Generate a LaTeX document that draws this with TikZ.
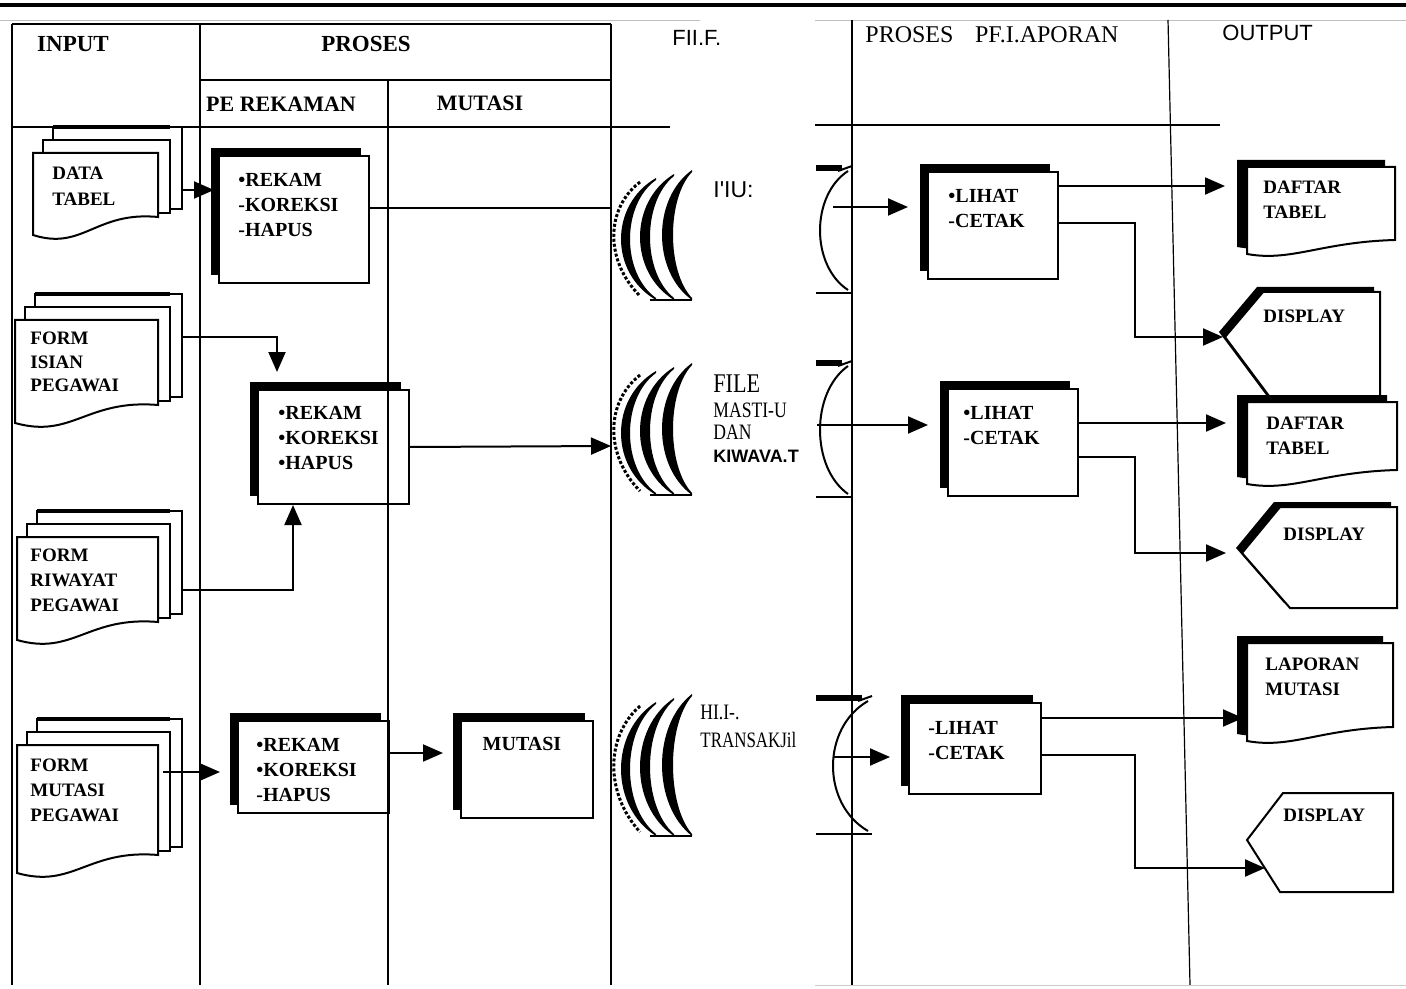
\documentclass[tikz,border=0pt]{standalone}
\usepackage{fontspec}
\usepackage{graphicx}
\setmainfont{Liberation Serif}
\newfontfamily\sansf{Liberation Sans}
\usetikzlibrary{arrows.meta,shadows,calc}

% stacked document: name, x, y (front top-left), w, h (right edge height)
\newcommand\mystack[5]{%
  \foreach \k in {2,1}{%
    \filldraw[fill=white,line width=1pt] ({#2+\k*10},{#3-\k*13}) rectangle ({#2+#4+\k*12},{#3+#5-\k*4});
  }
  \draw[line width=2pt] ({#2+20},{#3-26}) -- ({#2+#4+12},{#3-26});
  \filldraw[fill=white,line width=1pt] (#2,#3) -- ({#2+#4},#3) -- ({#2+#4},{#3+#5})
     .. controls ({#2+0.5*#4},{#3+#5-6}) and ({#2+0.4*#4},{#3+#5+34}) .. (#2,{#3+#5+18}) -- cycle;
  \coordinate (#1) at ({#2+#4/2},{#3+#5/2});
}
% output document with shadow: name, x, y, w, h
\newcommand\myoutdoc[5]{%
  \fill[black] ({#2-10},{#3-7}) -- ({#2+#4-10},{#3-7}) -- ({#2+#4-10},{#3+#5-7})
     .. controls ({#2+0.5*#4-10},{#3+#5-5}) and ({#2+0.3*#4-10},{#3+#5+15}) .. ({#2-10},{#3+#5+7}) -- cycle;
  \filldraw[fill=white,line width=1pt] (#2,#3) -- ({#2+#4},#3) -- ({#2+#4},{#3+#5})
     .. controls ({#2+0.5*#4},{#3+#5+2}) and ({#2+0.3*#4},{#3+#5+22}) .. (#2,{#3+#5+14}) -- cycle;
  \node[inner sep=0pt,minimum width={#4*0.5pt},minimum height={#5*0.5pt},anchor=north west] (#1) at (#2,#3) {};
}
% crescent: xt, yt, yb, xl, thickness
\newcommand\mycres[5]{%
  \fill ({#1},{#2}) .. controls ({(#4)-((#1)-(#4))/3},{(#2)+((#3)-(#2))*0.22}) and ({(#4)-((#1)-(#4))/3},{(#3)-((#3)-(#2))*0.22}) .. ({#1},{#3})
     -- ({#1},{(#3)-2}) .. controls ({(#4)+(#5)-((#1)-(#4)-(#5))/3},{(#3)-((#3)-(#2))*0.22}) and ({(#4)+(#5)-((#1)-(#4)-(#5))/3},{(#2)+((#3)-(#2))*0.22}) .. ({#1},{(#2)+2}) -- cycle;
}
% left half of a file symbol: ytop, H
\newcommand\myfileleft[2]{%
  \mycres{692}{#1}{(#1)+(#2)}{662}{11}
  \mycres{674}{(#1)+4}{(#1)+(#2)}{640}{10}
  \mycres{656}{(#1)+8}{(#1)+(#2)}{621}{9}
  \draw[densely dotted,line width=1.5pt] (640,{(#1)+12}) .. controls (605,{(#1)+0.3*(#2)}) and (605,{(#1)+0.7*(#2)}) .. (640,{(#1)+(#2)-4});
  \draw[line width=1pt] (650,{(#1)+(#2)}) -- (692,{(#1)+(#2)});
}
% right half of a file symbol: yt, yb, xr, xl
\newcommand\myfileright[4]{%
  \draw[line width=1pt] (#3,{(#1)+3}) .. controls ({(#4)-((#3)-(#4))/3},{(#1)+0.22*((#2)-(#1))}) and ({(#4)-((#3)-(#4))/3},{(#2)-0.22*((#2)-(#1))}) .. (#3,{(#2)-3});
  \fill (816,{(#1)-3}) rectangle ({(#3)-6},{(#1)+3});
  \draw[line width=1pt] ({(#3)-10},{(#1)+3}) -- ({(#3)+4},{(#1)-2});
  \draw[line width=1pt] (816,#2) -- ({(#3)+4},#2);
}

\begin{document}
\begin{tikzpicture}[x=0.5pt,y=-0.5pt,
  ln/.style={line width=1pt},
  arr/.style={line width=1pt,-{Triangle[length=10pt,width=8.5pt]}},
  pbox/.style={draw,fill=white,line width=1pt,inner sep=0pt,anchor=north west,
     drop shadow={shadow xshift=-4pt,shadow yshift=4pt,opacity=1,fill=black}},
  scan/.style={font=\fontsize{10}{12.5}\selectfont\bfseries,align=left,inner sep=0pt,anchor=west},
  scans/.style={font=\fontsize{9.5}{12.5}\selectfont\bfseries,align=left,inner sep=0pt,anchor=west},
  hdr/.style={font=\fontsize{11.5}{13}\selectfont\bfseries,inner sep=0pt},
  lab/.style={inner sep=0pt,anchor=west}
]
\useasboundingbox (0,0) rectangle (1406,989);
\fill[white] (0,0) rectangle (1406,989);

% ---------- input documents ----------
\mystack{d1}{33}{153}{125}{64}
\mystack{d2}{15}{320}{143}{85}
\mystack{d3}{17}{537}{141}{85}
\mystack{d4}{17}{745}{141}{110}
\node[scans,font=\fontsize{9.5}{13}\selectfont\bfseries] (d1t) at (52,186) {DATA\\TABEL};
\node[scans,font=\fontsize{9.5}{11.75}\selectfont\bfseries] (d2t) at (30,362) {FORM\\ISIAN\\PEGAWAI};
\node[scans] (d3t) at (30,580) {FORM\\RIWAYAT\\PEGAWAI};
\node[scans] (d4t) at (30,790) {FORM\\MUTASI\\PEGAWAI};

% ---------- process boxes ----------
\node[pbox,minimum width=75pt,minimum height=63.5pt] (b1) at (218,155) {};
\node[pbox,minimum width=75.5pt,minimum height=57pt] (b2) at (257,389) {};
\node[pbox,minimum width=75.5pt,minimum height=46pt] (b3) at (237,720) {};
\node[pbox,minimum width=66pt,minimum height=48.5pt] (mut) at (460,720) {};
\node[pbox,minimum width=65pt,minimum height=53.5pt] (l1) at (927,171) {};
\node[pbox,minimum width=65pt,minimum height=53.5pt] (l2) at (947,388) {};
\node[pbox,minimum width=66pt,minimum height=45.5pt] (l3) at (908,702) {};

\node[scan] (b1t) at (238,205) {•REKAM\\-KOREKSI\\-HAPUS};
\node[scan] (b2t) at (278,438) {•REKAM\\•KOREKSI\\•HAPUS};
\node[scan] (b3t) at (256,770) {•REKAM\\•KOREKSI\\-HAPUS};
\node[scan,anchor=center] (mutt) at (522,744) {MUTASI};
\node[scan] (l1t) at (948,208) {•LIHAT\\-CETAK};
\node[scan] (l2t) at (963,425) {•LIHAT\\-CETAK};
\node[scan] (l3t) at (928,740) {-LIHAT\\-CETAK};

% ---------- files ----------
\myfileleft{170}{130}
\myfileleft{363}{132}
\myfileleft{694}{142}
\myfileright{168}{293}{848}{820}
\myfileright{363}{497}{848}{820}
\myfileright{698}{834}{868}{833}

\node[lab,font=\sansf\fontsize{11.5}{13}\selectfont] (fl1) at (713,190) {I'IU:};
\node[lab,font=\fontsize{13.5}{15}\selectfont] (fl2a) at (713,384) {\scalebox{0.82}[1]{FILE}};
\node[lab,font=\fontsize{11}{13}\selectfont] (fl2b) at (713,410) {\scalebox{0.8}[1]{MASTI-U}};
\node[lab,font=\fontsize{11}{13}\selectfont] (fl2c) at (713,432) {\scalebox{0.8}[1]{DAN}};
\node[lab,font=\sansf\bfseries\fontsize{9}{11}\selectfont] (fl2d) at (713,456) {KIWAVA.T};
\node[lab,font=\fontsize{11}{13}\selectfont] (fl3a) at (700,712) {\scalebox{0.8}[1]{HI.I-.}};
\node[lab,font=\fontsize{11}{13}\selectfont] (fl3b) at (700,740) {\scalebox{0.77}[1]{TRANSAKJil}};

% ---------- output shapes ----------
\myoutdoc{o1}{1247}{167}{148}{73}
\fill (1219,332) -- (1257,287) -- (1374,287) -- (1374,395) -- (1266,395) -- cycle;
\filldraw[fill=white,ln] (1225,337) -- (1263,292) -- (1380,292) -- (1380,400) -- (1272,400) -- cycle;
\coordinate (disp1) at (1225,337);
\myoutdoc{o2}{1247}{402}{150}{68}
\fill (1236,548) -- (1274,502) -- (1391,502) -- (1391,603) -- (1284,603) -- cycle;
\filldraw[fill=white,ln] (1242,553) -- (1280,507) -- (1397,507) -- (1397,608) -- (1290,608) -- cycle;
\coordinate (disp2) at (1242,553);
\myoutdoc{o3}{1247}{643}{146}{84}
\filldraw[fill=white,ln] (1247,840) -- (1283,793) -- (1393,793) -- (1393,892) -- (1280,892) -- cycle;
\coordinate (disp3e) at (1265,868);

\node[scans] (o1t) at (1263,200) {DAFTAR\\TABEL};
\node[scans] (o2t) at (1266,436) {DAFTAR\\TABEL};
\node[scans] (o3t) at (1265,677) {LAPORAN\\MUTASI};
\node[scans] (p1t) at (1263,316) {DISPLAY};
\node[scans] (p2t) at (1283,534) {DISPLAY};
\node[scans] (p3t) at (1283,815) {DISPLAY};

% ---------- connectors ----------
\coordinate (d1out) at (182,190);
\draw[arr,shorten >=2pt] (d1out) -- (d1out -| b1.west);
\coordinate (f1in) at (611,208);
\draw[ln] (f1in -| b1.east) -- (f1in);
\coordinate (d2out) at (182,337);
\draw[arr] (d2out) -| ([xshift=10pt,yshift=8.5pt]b2.north west);
\coordinate (d3out) at (182,590);
\draw[arr] (d3out) -| ([xshift=18pt]b2.south west);
\coordinate (f2in) at (611,446);
\draw[arr] (b2.east) -- (f2in);
\coordinate (d4out) at (163,772);
\draw[arr,shorten >=8.5pt] (d4out) -- (d4out -| b3.west);
\coordinate (b3o) at ([yshift=7pt]b3.east);
\draw[arr,shorten >=8.5pt] (b3o) -- (b3o -| mut.west);

\coordinate (f1out) at (833,207);
\draw[arr,shorten >=9.5pt] (f1out) -- (f1out -| l1.west);
\coordinate (f2out) at (817,425);
\draw[arr,shorten >=9.5pt] (f2out) -- (f2out -| l2.west);
\coordinate (f3out) at (833,757);
\draw[arr,shorten >=9pt] (f3out) -- (f3out -| l3.west);

\coordinate (l1a) at ([yshift=-7.5pt]l1.north east);
\draw[arr,shorten >=11pt] (l1a) -- (l1a -| o1.west);
\coordinate (l1b) at ([yshift=-26pt]l1.north east);
\draw[arr,shorten >=1pt] (l1b) -- ++(76,0) |- (disp1);
\coordinate (l2a) at ([yshift=-17.5pt]l2.north east);
\draw[arr,shorten >=10.5pt] (l2a) -- (l2a -| o2.west);
\coordinate (l2b) at ([yshift=-34.5pt]l2.north east);
\draw[arr,shorten >=8pt] (l2b) -- ++(56,0) |- (disp2);
\coordinate (l3a) at ([yshift=-8pt]l3.north east);
\draw[arr,shorten >=2pt] (l3a) -- (l3a -| o3.west);
\coordinate (l3b) at ([yshift=-26.5pt]l3.north east);
\draw[arr] (l3b) -- ++(93,0) |- (disp3e);

% ---------- table lines ----------
\draw[line width=2pt] (0,5) -- (1406,5);
\draw[gray!50,line width=0.4pt] (0,20) -- (700,20);
\draw[gray!50,line width=0.4pt] (815,20) -- (1406,20);
\draw[ln] (12,24) -- (611,24);
\draw[ln] (200,80) -- (611,80);
\draw[ln] (12,127) -- (670,127);
\draw[ln] (12,24) -- (12,985);
\draw[ln] (200,24) -- (200,985);
\draw[ln] (388,80) -- (388,985);
\draw[ln] (611,24) -- (611,985);
\draw[ln] (852,20) -- (852,985);
\draw[line width=0.6pt] (1168,20) -- (1190,985);
\draw[ln] (815,125) -- (1220,125);
\draw[gray!40,line width=0.4pt] (815,985) -- (1406,985);

% ---------- headers ----------
\node[hdr] (hin) at (73,44) {INPUT};
\node[hdr] (hpr) at (366,44) {PROSES};
\node[hdr,font=\fontsize{11}{13}\selectfont\bfseries] (hre) at (281,104) {PE REKAMAN};
\node[hdr,font=\fontsize{11}{13}\selectfont\bfseries] (hmu) at (480,103) {MUTASI};
\node[lab,font=\sansf\fontsize{11}{13}\selectfont] (hfile) at (672,38) {FII.F.};
\node[lab,font=\fontsize{12}{14}\selectfont] (hlap) at (865,35) {PROSES\hspace{0.9em}PF.I.APORAN};
\node[lab,font=\sansf\fontsize{11}{13}\selectfont] (hout) at (1222,33) {OUTPUT};
\end{tikzpicture}
\end{document}
